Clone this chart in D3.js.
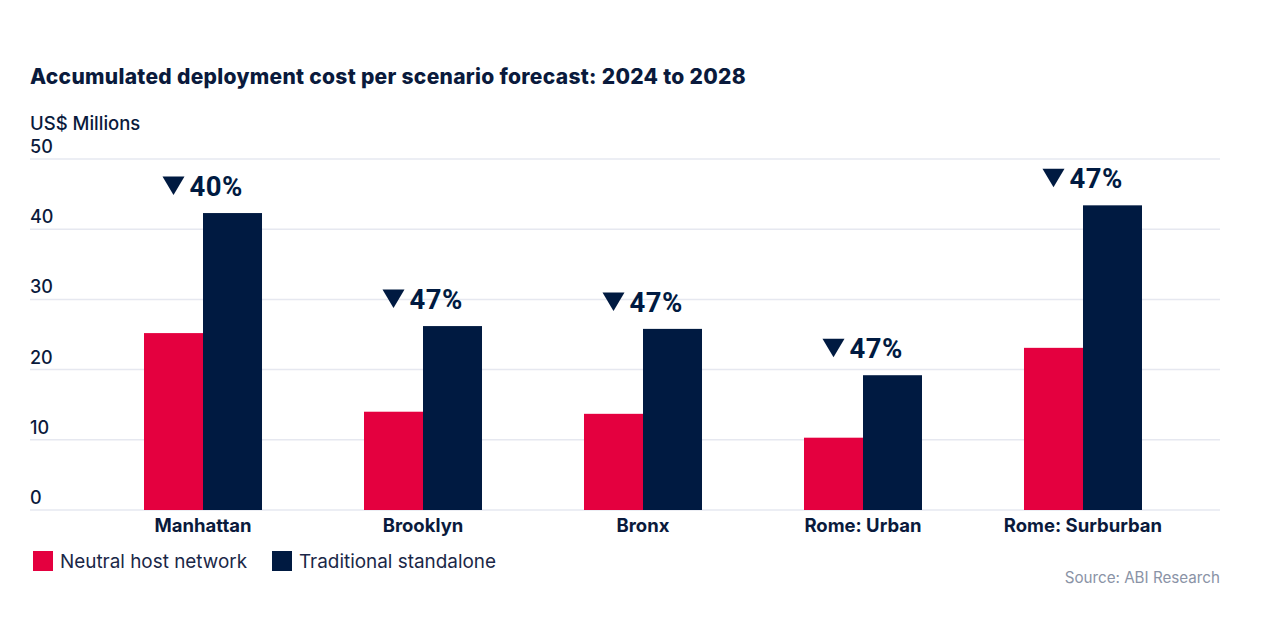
<!DOCTYPE html>
<html>
    <head>
        <script src="https://d3js.org/d3.v7.min.js"></script>
        <style>
            body{
                margin:0;
                background:#fff;
            }
            text{
                font-family:"Inter", "Roboto", sans-serif;
                fill:#0a1a3c;
            }
        </style>
    </head>
    <body>
        <svg height="639" width="1267" id="chart"></svg>
        <script>
            // values
            const categories=["Manhattan", "Brooklyn", "Bronx", "Rome: Urban", "Rome: Surburban"];
            const series=["Neutral host network", "Traditional standalone"];
            const neutralHost=[25.2, 14.0, 13.7, 10.3, 23.1];
            const traditional=[42.3, 26.2, 25.8, 19.2, 43.4];
            const reductions=["40%", "47%", "47%", "47%", "47%"];
            const yTicks=[0, 10, 20, 30, 40, 50];
            const colors=["#e4003f", "#001a41"];

            let svg=d3.select("#chart");

            let x0=d3.scaleBand()
                .domain(categories)
                .range([144, 1142])
                .paddingInner(0.4636)
                .paddingOuter(0);
            let x1=d3.scaleBand()
                .domain(series)
                .range([0, x0.bandwidth()]);
            let y=d3.scaleLinear()
                .domain([0, 50])
                .range([510, 159]);

            // title
            svg.append("text")
                .attr("x", 30)
                .attr("y", 84)
                .style("font-size", "21px")
                .style("font-weight", 800)
                .style("letter-spacing", "0.3px")
                .text("Accumulated deployment cost per scenario forecast: 2024 to 2028");

            svg.append("text")
                .attr("x", 30)
                .attr("y", 130)
                .style("font-size", "18.5px")
                .style("font-weight", 500)
                .text("US$ Millions");

            // gridlines + tick labels
            let grid=svg.append("g").attr("class", "grid");
            grid.selectAll("line").data(yTicks)
                .join("line")
                .attr("x1", 30)
                .attr("x2", 1220)
                .attr("y1", d=>y(d))
                .attr("y2", d=>y(d))
                .style("stroke", "#e6e8f0")
                .style("stroke-width", 1.5);
            grid.selectAll("text").data(yTicks)
                .join("text")
                .attr("x", 30)
                .attr("y", d=>y(d)-6)
                .style("font-size", "18px")
                .style("font-weight", 500)
                .text(d=>d);

            // bars
            let rows=categories.map((c, i)=>({
                category:c,
                values:[neutralHost[i], traditional[i]],
                reduction:reductions[i]
            }));

            let groups=svg.selectAll("g.group").data(rows)
                .join("g")
                .attr("class", "group")
                .attr("transform", d=>`translate(${x0(d.category)},0)`);

            groups.selectAll("rect")
                .data(d=>d.values.map((v, j)=>({key:series[j], value:v, color:colors[j]})))
                .join("rect")
                .attr("x", d=>x1(d.key))
                .attr("width", x1.bandwidth())
                .attr("y", d=>y(d.value))
                .attr("height", d=>y(0)-y(d.value))
                .style("fill", d=>d.color);

            // reduction annotation above the taller bar
            let notes=groups.append("g")
                .attr("transform", d=>`translate(${x0.bandwidth()/2},${y(d.values[1])-27})`);
            notes.append("path")
                .attr("d", "M-40.5,-9.5 L-18.5,-9.5 L-29.5,9 Z")
                .style("fill", colors[1]);
            notes.append("text")
                .attr("x", -13.5)
                .attr("y", 10)
                .style("font-family", "Roboto, sans-serif")
                .style("font-size", "27.5px")
                .style("font-weight", 700)
                .style("letter-spacing", "0.5px")
                .style("fill", colors[1])
                .text(d=>d.reduction);

            // category labels
            svg.append("g").selectAll("text").data(categories)
                .join("text")
                .attr("x", d=>x0(d)+x0.bandwidth()/2)
                .attr("y", 532)
                .attr("text-anchor", "middle")
                .style("font-size", "18.5px")
                .style("font-weight", 700)
                .text(d=>d);

            // legend
            let legendX=[33, 272];
            let legend=svg.append("g").selectAll("g").data(series)
                .join("g")
                .attr("transform", (d, i)=>`translate(${legendX[i]},551)`);
            legend.append("rect")
                .attr("width", 20)
                .attr("height", 20)
                .style("fill", (d, i)=>colors[i]);
            legend.append("text")
                .attr("x", 27)
                .attr("y", 17)
                .style("font-size", "18.9px")
                .style("font-weight", 400)
                .style("fill", "#1a2747")
                .text(d=>d);

            svg.append("text")
                .attr("x", 1220)
                .attr("y", 583)
                .attr("text-anchor", "end")
                .style("font-size", "15.2px")
                .style("fill", "#8a93a6")
                .text("Source: ABI Research");
        </script>
    </body>
</html>
